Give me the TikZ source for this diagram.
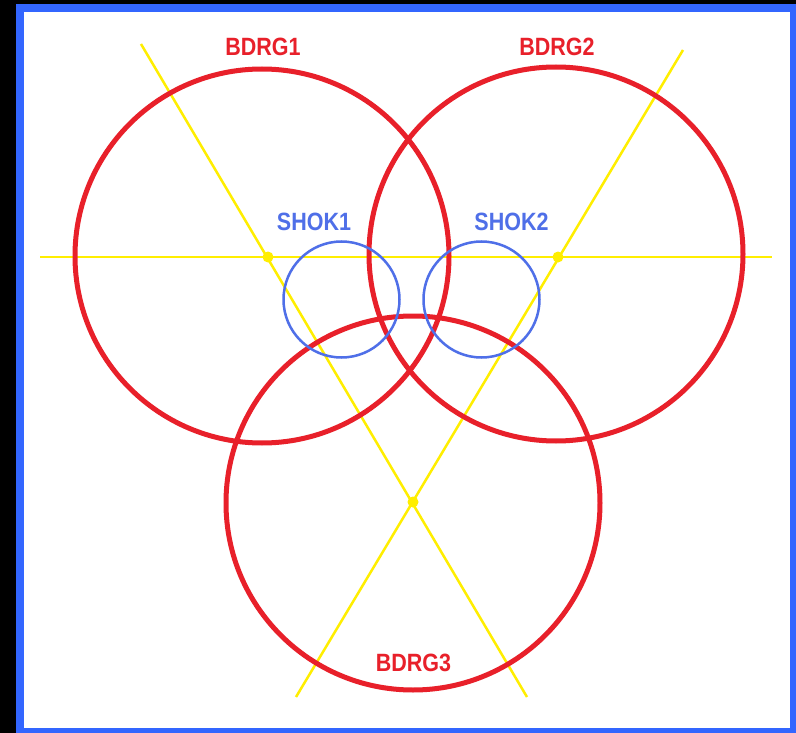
\documentclass[tikz,border=0pt]{standalone}
\usepackage{fontspec}
\setmainfont{Liberation Sans}
\definecolor{framebl}{HTML}{3366FF}
\definecolor{ringred}{HTML}{E8202A}
\definecolor{shokbl}{HTML}{4F6FE8}
\definecolor{axisyel}{HTML}{FFEE00}
\begin{document}
\begin{tikzpicture}[x=1pt,y=-1pt,
  bdrg/.style={circle,draw=ringred,line width=5pt,inner sep=0pt,outer sep=0pt,minimum size=374pt},
  shok/.style={circle,draw=shokbl,line width=2.5pt,inner sep=0pt,outer sep=0pt,minimum size=116pt},
  axis/.style={draw=axisyel,line width=2.5pt},
  dot/.style={circle,fill=axisyel,inner sep=0pt,minimum size=11pt},
  redlab/.style={text=ringred,font=\bfseries\fontsize{25}{25}\selectfont,xscale=0.86,inner sep=0pt},
  bluelab/.style={text=shokbl,font=\bfseries\fontsize{25}{25}\selectfont,xscale=0.86,inner sep=0pt}]
\useasboundingbox (0,0) rectangle (796,733);
\fill[black] (0,0) rectangle (796,733);
\fill[framebl] (16,4) rectangle (796,733);
\fill[white] (24,12) rectangle (790,728);
% axes
\coordinate (h1) at (40,257);
\coordinate (h2) at (772,257);
\coordinate (a1) at (141,44);
\coordinate (a2) at (527,697);
\coordinate (b1) at (683,50);
\coordinate (b2) at (296,697);
\draw[axis] (h1) -- (h2);
\draw[axis] (a1) -- (a2);
\draw[axis] (b1) -- (b2);
\node[dot] (d1) at (268,257) {};
\node[dot] (d2) at (558,257) {};
\node[dot] (d3) at (413,502) {};
% rings
\node[bdrg] (r1) at (262,256) {};
\node[bdrg] (r2) at (556,254) {};
\node[bdrg] (r3) at (413,503) {};
\node[shok] (s1) at (341.5,299.5) {};
\node[shok] (s2) at (481.5,299.5) {};
% labels
\node[redlab] (l1) at (263,47) {BDRG1};
\node[redlab] (l2) at (557,47) {BDRG2};
\node[redlab] (l3) at (413.5,663) {BDRG3};
\node[bluelab] (l4) at (314,222) {SHOK1};
\node[bluelab] (l5) at (511.5,222) {SHOK2};
\end{tikzpicture}
\end{document}
